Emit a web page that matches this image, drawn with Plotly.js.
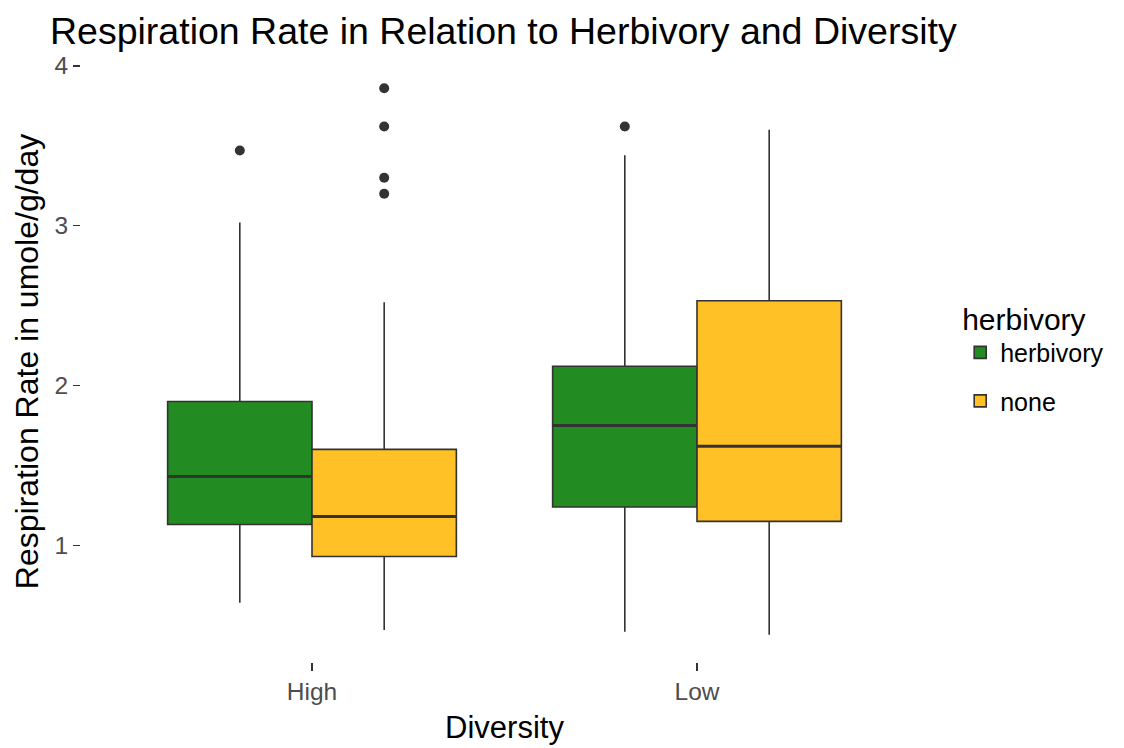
<!DOCTYPE html>
<html>
<head>
<meta charset="utf-8">
<script src="https://cdn.plot.ly/plotly-3.0.1.min.js"></script>
<style>html,body{margin:0;padding:0;background:#fff;}#chart{width:1124px;height:748px;}</style>
</head>
<body>
<div id="chart"></div>
<script>
const diversity = ["High", "Low"];
const groups = ["herbivory", "none"];
const colors = ["#228B22", "#FFC125"];

// stats per group, indexed by diversity
const q1 = { herbivory: [1.13, 1.24], none: [0.93, 1.15] };
const median = { herbivory: [1.43, 1.75], none: [1.18, 1.62] };
const q3 = { herbivory: [1.90, 2.12], none: [1.60, 2.53] };
const lowerfence = { herbivory: [0.64, 0.46], none: [0.47, 0.44] };
const upperfence = { herbivory: [3.02, 3.44], none: [2.52, 3.60] };
const outliers = {
  herbivory: [[3.47], [3.62]],
  none: [[3.86, 3.62, 3.30, 3.20], []]
};

const dodge = 0.375;
const traces = [];
groups.forEach((g, gi) => {
  const offset = (gi - 0.5) * dodge;
  const xs = diversity.map((d, di) => di + 1 + offset);
  traces.push({
    type: "box",
    name: g,
    legendgroup: g,
    x: xs,
    q1: q1[g], median: median[g], q3: q3[g],
    lowerfence: lowerfence[g], upperfence: upperfence[g],
    width: dodge,
    whiskerwidth: 0,
    boxpoints: false,
    fillcolor: colors[gi],
    line: { color: "#333333", width: 1.6 },
    hoverinfo: "y"
  });
  // thicker median line (ggplot fatten)
  const mx = [], my = [];
  diversity.forEach((d, di) => {
    mx.push(di + 1 + offset - dodge / 2, di + 1 + offset + dodge / 2, null);
    my.push(median[g][di], median[g][di], null);
  });
  traces.push({
    type: "scatter", mode: "lines", x: mx, y: my,
    line: { color: "#333333", width: 3 },
    showlegend: false, hoverinfo: "skip"
  });
  const ox = [], oy = [];
  diversity.forEach((d, di) => {
    outliers[g][di].forEach(v => { ox.push(di + 1 + offset); oy.push(v); });
  });
  traces.push({
    type: "scatter", mode: "markers", x: ox, y: oy,
    marker: { color: "#333333", size: 10 },
    showlegend: false, legendgroup: g, hoverinfo: "y"
  });
});

const layout = {
  width: 1124, height: 748,
  paper_bgcolor: "#ffffff", plot_bgcolor: "#ffffff",
  font: { family: "Liberation Sans, Arial, sans-serif", color: "#000000" },
  margin: { l: 81, r: 196, t: 61, b: 86 },
  title: {
    text: "Respiration Rate in Relation to Herbivory and Diversity",
    font: { size: 37.5, color: "#000000" },
    x: 50 / 1124, xref: "container", xanchor: "left",
    y: 1 - 31 / 748, yref: "container", yanchor: "middle"
  },
  xaxis: {
    range: [0.4, 2.6],
    tickvals: [1, 2], ticktext: diversity,
    showgrid: false, zeroline: false, showline: false,
    ticks: "outside", ticklen: 8, tickcolor: "#333333", tickwidth: 1.5,
    tickfont: { size: 24.5, color: "#4D4D4D" },
    title: { text: "Diversity", font: { size: 31, color: "#000000" }, standoff: 11 }
  },
  yaxis: {
    range: [0.27, 4.03],
    tickvals: [1, 2, 3, 4],
    showgrid: false, zeroline: false, showline: false,
    ticks: "outside", ticklen: 7, tickcolor: "#333333", tickwidth: 1.5,
    tickfont: { size: 24.5, color: "#4D4D4D" },
    title: { text: "Respiration Rate in umole/g/day", font: { size: 32, color: "#000000" }, standoff: 6 }
  },
  showlegend: true,
  legend: {
    x: 1.038, xanchor: "left", y: 0.618, yanchor: "top",
    title: { text: "herbivory", font: { size: 30, color: "#000000" } },
    font: { size: 25, color: "#000000" },
    bgcolor: "rgba(0,0,0,0)",
    tracegroupgap: 13
  },
  boxmode: "overlay"
};

Plotly.newPlot("chart", traces, layout, { displayModeBar: false, staticPlot: true });
</script>
</body>
</html>
